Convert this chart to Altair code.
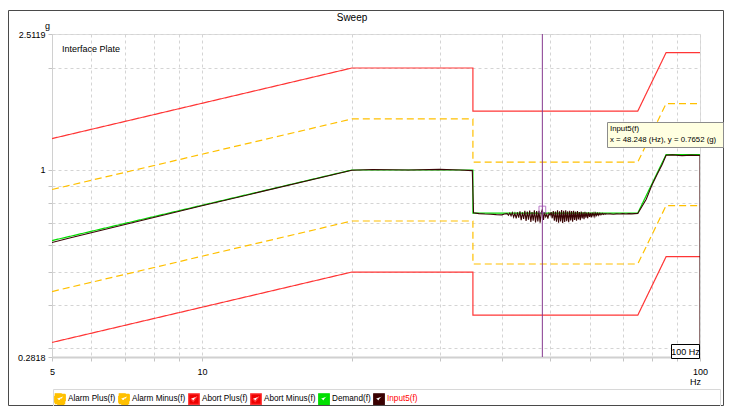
import altair as alt
import pandas as pd

# ---------------- data ----------------
series_names = ["Alarm Plus(f)", "Alarm Minus(f)", "Abort Plus(f)", "Abort Minus(f)", "Demand(f)", "Input5(f)"]
series_colors = ["#ffc000", "#ffc000", "#ff3535", "#ff3535", "#00dd00", "#3a0505"]
legend_colors = ["#ffc000", "#ffc000", "#ee0000", "#ee0000", "#00e000", "#3a0000"]

guide_freq = [5, 20, 35, 35, 75, 85.5, 100]
demand = [0.62, 1.0, 1.0, 0.747, 0.747, 1.11, 1.11]
alarm_plus = [0.876, 1.413, 1.413, 1.055, 1.055, 1.568, 1.568]
alarm_minus = [0.439, 0.708, 0.708, 0.529, 0.529, 0.786, 0.786]
abort_plus = [1.237, 1.995, 1.995, 1.490, 1.490, 2.215, 2.215]
abort_minus = [0.311, 0.501, 0.501, 0.374, 0.374, 0.556, 0.556]

input_freq_a = [5.0, 5.4, 10, 20, 22, 26, 30, 33, 34.9, 35.1, 36, 37, 38, 39, 40, 40.5]
input_val_a = [0.612, 0.630, 0.785, 0.998, 1.003, 1.000, 1.004, 1.000, 0.996, 0.748, 0.744, 0.742, 0.741, 0.739, 0.738, 0.742]

input_freq_b = [41.0, 41.25, 41.5, 41.75, 42.0, 42.25, 42.5, 42.75, 43.0, 43.25, 43.5, 43.75,
                44.0, 44.25, 44.5, 44.75, 45.0, 45.25, 45.5, 45.75, 46.0, 46.25, 46.5, 46.75,
                47.0, 47.25, 47.5, 47.75, 48.0, 48.248, 48.5, 48.75, 49.0, 49.25, 49.5, 49.75,
                50.0, 50.25, 50.5, 50.75, 51.0, 51.25, 51.5, 51.75, 52.0, 52.25, 52.5, 52.75,
                53.0, 53.25, 53.5, 53.75, 54.0, 54.25, 54.5, 54.75, 55.0, 55.25, 55.5, 55.75,
                56.0, 56.25, 56.5, 56.75, 57.0, 57.25, 57.5, 57.75, 58.0, 58.25, 58.5, 58.75,
                59.0, 59.25, 59.5, 59.75, 60.0, 60.25, 60.5, 60.75, 61.0, 61.25, 61.5, 61.75,
                62.0, 62.25, 62.5, 62.75, 63.0, 63.25, 63.5, 63.75, 64.0, 64.25, 64.5, 64.75, 65.0]
input_val_b = [0.744, 0.736, 0.747, 0.733, 0.749, 0.727, 0.746, 0.721, 0.751, 0.724, 0.756, 0.712,
               0.750, 0.718, 0.758, 0.708, 0.754, 0.714, 0.760, 0.703, 0.752, 0.709, 0.761, 0.701,
               0.757, 0.706, 0.759, 0.700, 0.748, 0.7652, 0.713, 0.750, 0.728, 0.741, 0.719, 0.746,
               0.736, 0.752, 0.721, 0.757, 0.709, 0.755, 0.704, 0.761, 0.700, 0.756, 0.706, 0.762,
               0.699, 0.758, 0.703, 0.761, 0.707, 0.756, 0.702, 0.759, 0.710, 0.757, 0.705, 0.758,
               0.713, 0.754, 0.709, 0.757, 0.716, 0.752, 0.712, 0.755, 0.720, 0.751, 0.717, 0.753,
               0.724, 0.749, 0.721, 0.751, 0.728, 0.748, 0.726, 0.749, 0.732, 0.747, 0.730, 0.747,
               0.735, 0.746, 0.736, 0.746, 0.738, 0.745, 0.739, 0.745, 0.740, 0.744, 0.741, 0.744, 0.742]

input_freq_c = [66, 67, 68, 69, 70, 71, 72, 73, 74, 75, 78, 80, 82, 84, 85.5, 88, 92, 96, 99.6, 100, 100]
input_val_c = [0.743, 0.741, 0.743, 0.742, 0.744, 0.742, 0.744, 0.743, 0.744, 0.745, 0.82, 0.90, 0.97, 1.04, 1.105, 1.108, 1.102, 1.106, 1.104, 1.100, 0.283]

cursor_freq = 48.248
cursor_val = 0.7652

x_ticks = [5, 6, 7, 8, 9, 10, 20, 30, 40, 50, 60, 70, 80, 90, 100]
y_ticks = [0.2818, 0.3, 0.4, 0.5, 0.6, 0.7, 0.8, 0.9, 1, 2, 2.5119]

# ---------------- tables ----------------
guide_rows = []
for name, vals in zip(series_names[:5], [alarm_plus, alarm_minus, abort_plus, abort_minus, demand]):
    for i, (f, v) in enumerate(zip(guide_freq, vals)):
        guide_rows.append({"series": name, "freq": f, "val": v, "idx": i})
guides_df = pd.DataFrame(guide_rows)

in_f = input_freq_a + input_freq_b + input_freq_c
in_v = input_val_a + input_val_b + input_val_c
input_df = pd.DataFrame({"series": "Input5(f)", "freq": in_f, "val": in_v, "idx": list(range(len(in_f)))})

legend_df = pd.DataFrame({"series": series_names, "freq": [cursor_freq] * 6, "val": [cursor_val] * 6})
cursor_df = pd.DataFrame({"freq": [cursor_freq], "val": [cursor_val]})
one = pd.DataFrame({"t": [0]})

FONT = "Liberation Sans"

xscale = alt.Scale(type="log", domain=[5, 100], nice=False)
yscale = alt.Scale(type="log", domain=[0.2818, 2.5119], nice=False)

x_axis = alt.Axis(
    values=x_ticks,
    labelExpr="datum.value == 5 ? '5' : (datum.value == 10 ? '10' : (datum.value == 100 ? '100' : ''))",
    title="Hz", titleX=643, titleY=24, titleBaseline="middle", titleAlign="center",
    titleFontWeight="normal", titleFontSize=9, titleFont=FONT, titleColor="#000000",
    labelFont=FONT, labelFontSize=9, labelColor="#000000", labelPadding=6,
    labelFlush=False, labelOverlap=False, labelBound=False,
    tickSize=4, tickColor="#c4c4c4", domainColor="#d0d0d0", domainWidth=2,
    grid=True, gridDash=[3, 3], gridColor="#d4d4d4",
)
y_axis = alt.Axis(
    values=y_ticks,
    labelExpr="datum.value == 1 ? '1' : (datum.value > 2.5 ? '2.5119' : (datum.value < 0.29 ? '0.2818' : ''))",
    title="g", titleAngle=0, titleX=-5, titleY=-6, titleAlign="center", titleBaseline="alphabetic",
    titleFontWeight="normal", titleFontSize=9, titleFont=FONT, titleColor="#000000",
    labelFont=FONT, labelFontSize=9, labelColor="#000000", labelPadding=3,
    labelOverlap=False, labelBound=False, labelFlush=False,
    tickSize=4, tickColor="#c4c4c4", domainColor="#d0d0d0", domainWidth=1,
    grid=True, gridDash=[3, 3], gridColor="#d4d4d4",
)

legend = alt.Legend(
    title=None, orient="none", legendX=2, legendY=359, direction="horizontal",
    symbolType="M-1,-1H1V1H-1Z M-0.6,-0.05L-0.15,0.45L0.6,-0.5",
    symbolSize=110, symbolStrokeWidth=1.3, symbolStrokeColor="#ffffff", symbolOpacity=1,
    labelFont=FONT, labelFontSize=8.2, labelOffset=2, columnPadding=0, padding=0,
    labelColor={"expr": "datum.value == 'Input5(f)' ? '#ff0000' : '#000000'"},
)

color = alt.Color("series:N", scale=alt.Scale(domain=series_names, range=series_colors), legend=None)

# frame & decorations
frame = alt.Chart(one).mark_rect(fillOpacity=0, stroke="#4a4a4a", strokeWidth=1).encode(
    x=alt.value(-43.5), x2=alt.value(671.5), y=alt.value(-23.5), y2=alt.value(371.5))
legend_box = alt.Chart(one).mark_rect(fillOpacity=0, stroke="#d8d8d8", strokeWidth=1).encode(
    x=alt.value(1.5), x2=alt.value(668.5), y=alt.value(355.5), y2=alt.value(380))
title = alt.Chart(one).mark_text(font=FONT, fontSize=10, color="#000000", align="center", baseline="middle").encode(
    x=alt.value(300), y=alt.value(-16), text=alt.value("Sweep"))
label = alt.Chart(one).mark_text(font=FONT, fontSize=9, color="#000000", align="left", baseline="middle").encode(
    x=alt.value(10), y=alt.value(15), text=alt.value("Interface Plate"))

legend_layer = alt.Chart(legend_df).mark_square(size=0, opacity=0).encode(
    x=alt.X("freq:Q", scale=xscale),
    y=alt.Y("val:Q", scale=yscale),
    fill=alt.Fill("series:N", scale=alt.Scale(domain=series_names, range=legend_colors), legend=legend),
)

guides = alt.Chart(guides_df).mark_line(strokeWidth=1.2, clip=True).encode(
    x=alt.X("freq:Q", scale=xscale, axis=x_axis),
    y=alt.Y("val:Q", scale=yscale, axis=y_axis),
    color=color,
    strokeDash=alt.StrokeDash("series:N", scale=alt.Scale(
        domain=series_names, range=[[7, 4], [7, 4], [1, 0], [1, 0], [1, 0], [1, 0]]), legend=None),
    order=alt.Order("idx:Q"),
)
inp = alt.Chart(input_df).mark_line(strokeWidth=1.1, clip=True).encode(
    x=alt.X("freq:Q", scale=xscale),
    y=alt.Y("val:Q", scale=yscale),
    color=color,
    order=alt.Order("idx:Q"),
)

cursor_line = alt.Chart(cursor_df).mark_rule(color="#86398f", strokeWidth=1).encode(
    x=alt.X("freq:Q", scale=xscale), y=alt.value(0), y2=alt.value(323))
cursor_pt = alt.Chart(cursor_df).mark_point(shape="square", filled=False, size=45, color="#9b3fb0", strokeWidth=1).encode(
    x=alt.X("freq:Q", scale=xscale), y=alt.Y("val:Q", scale=yscale))

tip_box = alt.Chart(one).mark_rect(fill="#ffffe1", stroke="#8c8c8c", strokeWidth=1).encode(
    x=alt.value(555.5), x2=alt.value(671.5), y=alt.value(88.5), y2=alt.value(113.5))
tip1 = alt.Chart(one).mark_text(font=FONT, fontSize=7.8, color="#000000", align="left", baseline="middle").encode(
    x=alt.value(558), y=alt.value(95), text=alt.value("Input5(f)"))
tip2 = alt.Chart(one).mark_text(font=FONT, fontSize=7.8, color="#000000", align="left", baseline="middle").encode(
    x=alt.value(558), y=alt.value(106),
    text=alt.value(f"x = {cursor_freq:.3f} (Hz), y = {cursor_val:.4f} (g)"))

hz_box = alt.Chart(one).mark_rect(fill="#ffffff", stroke="#000000", strokeWidth=1).encode(
    x=alt.value(619.5), x2=alt.value(647.5), y=alt.value(310.5), y2=alt.value(324.5))
hz_text = alt.Chart(one).mark_text(font=FONT, fontSize=9, color="#000000", align="center", baseline="middle").encode(
    x=alt.value(633.5), y=alt.value(318), text=alt.value("100 Hz"))

chart = alt.layer(
    frame, legend_box, legend_layer, guides, inp, cursor_line, cursor_pt, title, label,
    hz_box, hz_text, tip_box, tip1, tip2
).properties(
    width=648, height=323,
    autosize=alt.AutoSizeParams(type="none"),
    padding={"left": 44, "top": 26, "right": 24, "bottom": 49},
).configure_view(stroke="#d8d8d8", strokeWidth=1).configure(font=FONT, background="#ffffff")

chart.save("out.html", embed_options={"renderer": "svg", "actions": False})
